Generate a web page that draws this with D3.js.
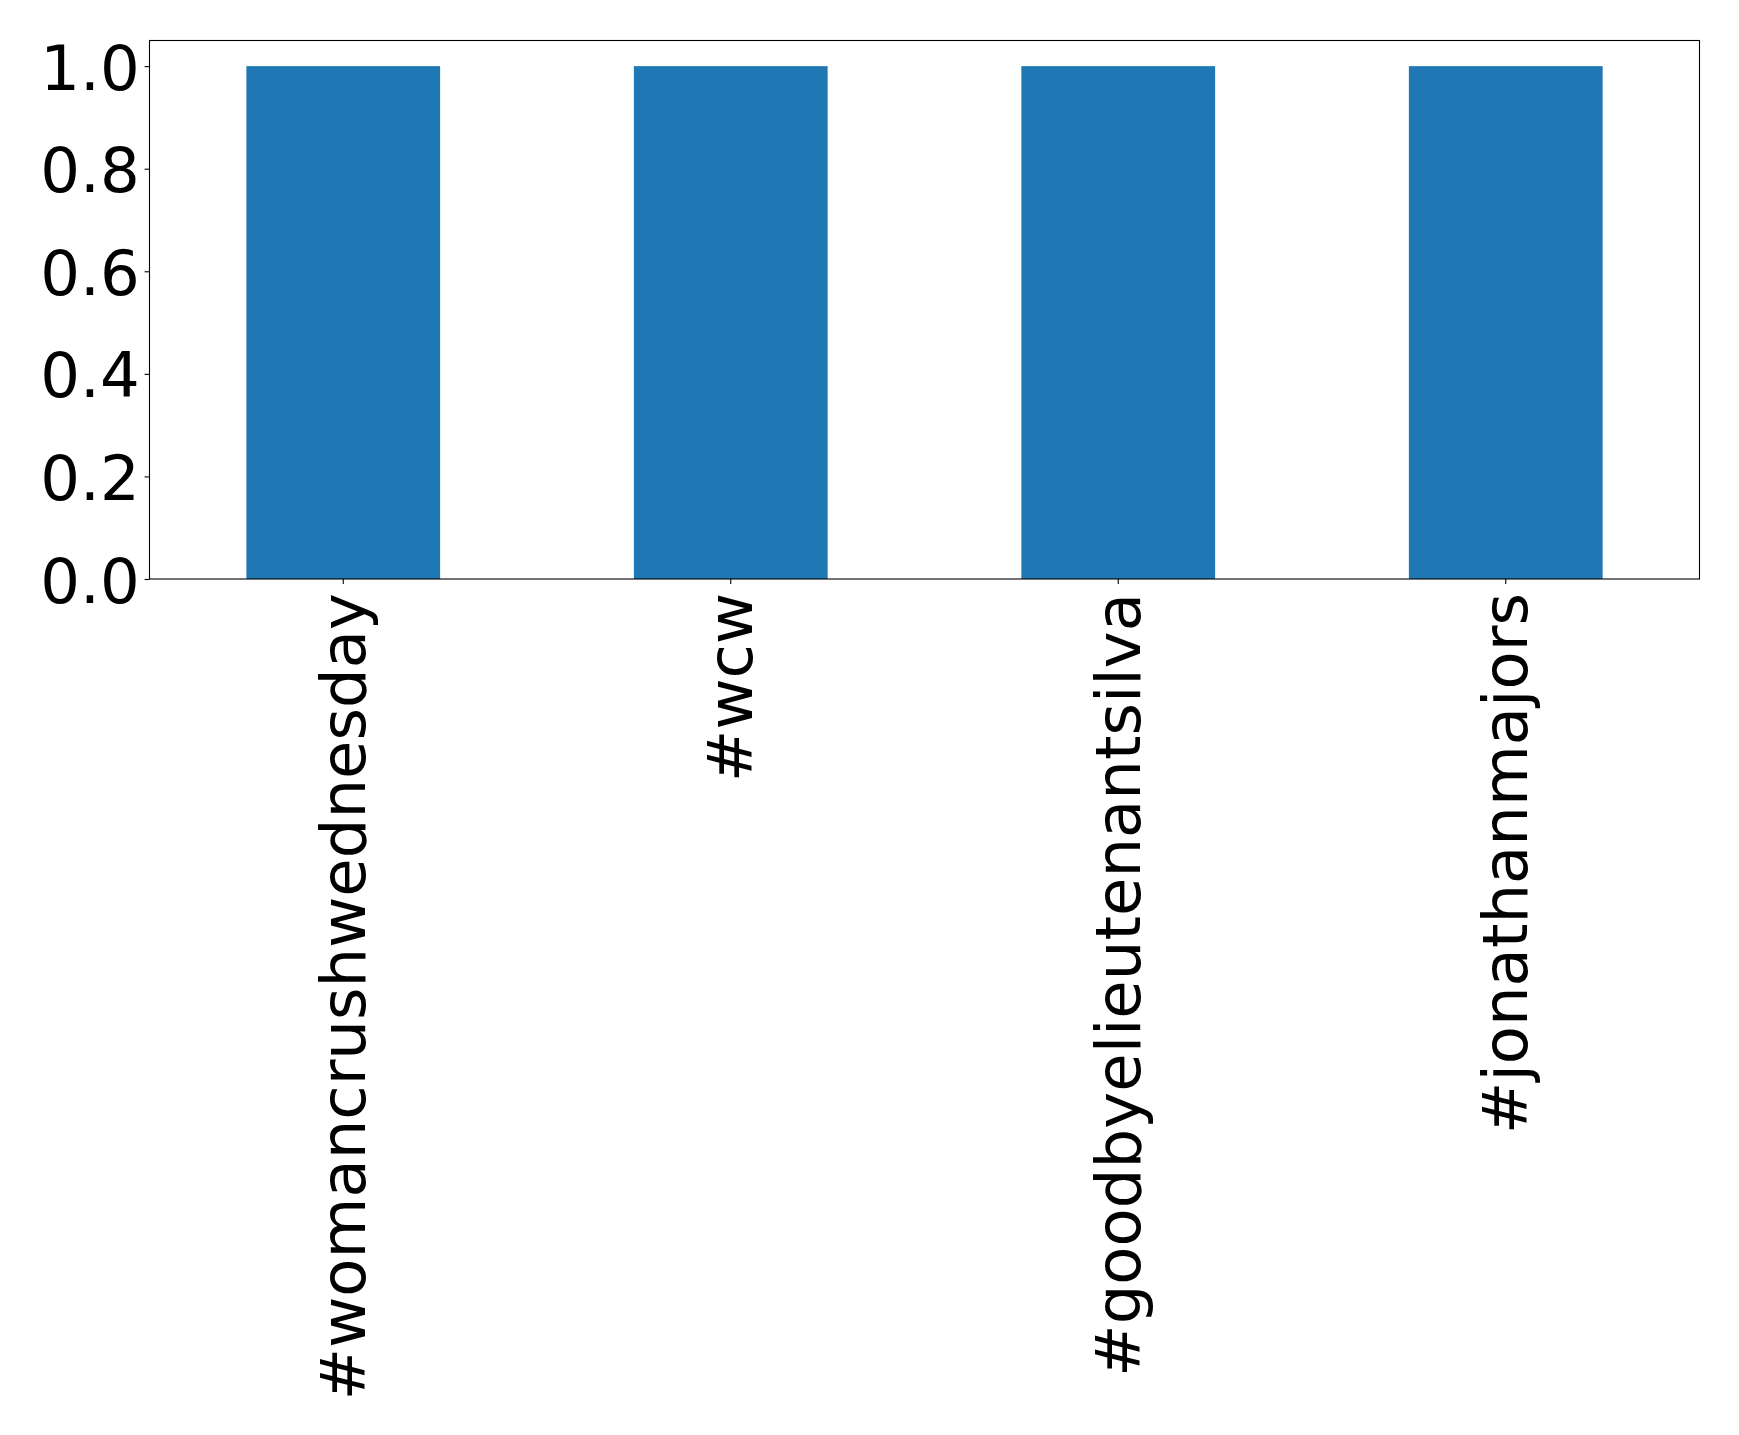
<!DOCTYPE html>
<html>
<head>
<meta charset="utf-8">
<script src="https://cdn.jsdelivr.net/npm/d3@7"></script>
<style>
  html, body { margin: 0; padding: 0; background: #fff; }
  svg { display: block; }
  text { font-family: "DejaVu Sans", sans-serif; fill: #000; }
</style>
</head>
<body>
<script>
const categories = ["#womancrushwednesday", "#wcw", "#goodbyelieutenantsilva", "#jonathanmajors"];
const values = [1, 1, 1, 1];
const yTicks = [0.0, 0.2, 0.4, 0.6, 0.8, 1.0];

const W = 1739, H = 1435;
const margin = { left: 149.5, right: 1739 - 1699.5, top: 40.5, bottom: 1435 - 579 };
const fontSize = 62.5;

const svg = d3.select("body").append("svg")
  .attr("width", W).attr("height", H);
svg.append("rect").attr("width", W).attr("height", H).attr("fill", "#fff");

const x = d3.scaleBand()
  .domain(categories)
  .range([margin.left, W - margin.right])
  .paddingInner(0.5).paddingOuter(0.25);

const y = d3.scaleLinear()
  .domain([0, 1.05])
  .range([H - margin.bottom, margin.top]);

// bars
svg.append("g").selectAll("rect")
  .data(categories)
  .join("rect")
  .attr("x", (d) => x(d))
  .attr("y", (d, i) => y(values[i]))
  .attr("width", x.bandwidth())
  .attr("height", (d, i) => y(0) - y(values[i]))
  .attr("fill", "#1f77b4");

// frame
svg.append("rect")
  .attr("x", margin.left).attr("y", margin.top)
  .attr("width", W - margin.right - margin.left)
  .attr("height", H - margin.bottom - margin.top)
  .attr("fill", "none").attr("stroke", "#000").attr("stroke-width", 1.1);

// y axis
const yAxis = d3.axisLeft(y).tickValues(yTicks).tickFormat(d3.format(".1f"))
  .tickSize(4.9).tickPadding(4.9);
const gy = svg.append("g").attr("transform", `translate(${margin.left},0)`).call(yAxis);
gy.select(".domain").remove();
gy.selectAll(".tick line").attr("stroke", "#000").attr("stroke-width", 1.1);
gy.selectAll(".tick text")
  .attr("font-size", fontSize)
  .attr("font-family", "DejaVu Sans")
  .attr("dy", "0.37em")
  .attr("fill", "#000");

// x axis
const xAxis = d3.axisBottom(x).tickSize(4.9).tickPadding(4.9);
const gx = svg.append("g").attr("transform", `translate(0,${H - margin.bottom})`).call(xAxis);
gx.select(".domain").remove();
gx.selectAll(".tick line").attr("stroke", "#000").attr("stroke-width", 1.1);
gx.selectAll(".tick text")
  .attr("font-size", fontSize)
  .attr("font-family", "DejaVu Sans")
  .attr("fill", "#000")
  .attr("text-anchor", "end")
  .attr("transform", "rotate(-90)")
  .attr("x", -14)
  .attr("y", 0)
  .attr("dy", "0.34em");
</script>
</body>
</html>
